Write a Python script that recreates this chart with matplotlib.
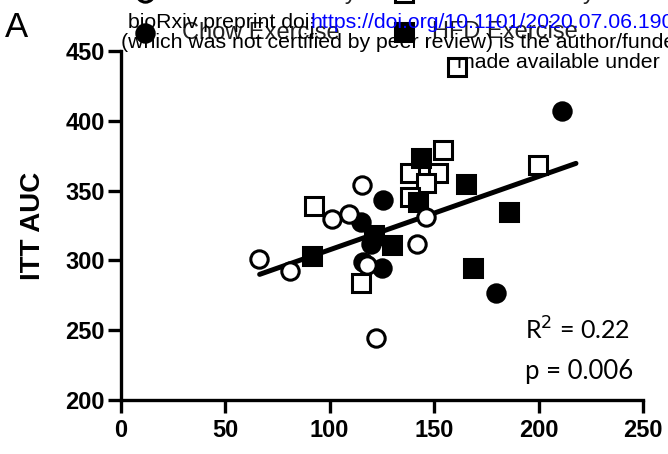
import matplotlib
matplotlib.use('Agg')
import matplotlib.pyplot as plt

# data (x: 0-250, y: ITT AUC)
chow_sed_x = [66.4, 81.0, 101.0, 109.5, 115.4, 146.0, 142.0, 118.0, 122.0]
chow_sed_y = [300.7, 292.5, 329.8, 332.9, 354.0, 331.3, 312.0, 296.4, 244.4]

chow_ex_x = [211.4, 125.7, 115.1, 119.6, 125.2, 179.5, 116.0]
chow_ex_y = [406.9, 343.3, 327.7, 312.0, 294.8, 276.4, 298.6]

hfd_sed_x = [92.7, 114.8, 138.5, 152.0, 146.2, 138.5, 154.2, 199.5, 161.2]
hfd_sed_y = [339.1, 284.1, 362.4, 362.4, 355.7, 345.6, 378.9, 368.0, 438.7]

hfd_ex_x = [91.6, 121.2, 130.0, 143.6, 142.5, 165.5, 185.9, 168.8]
hfd_ex_y = [303.1, 317.9, 311.0, 373.1, 342.0, 354.8, 335.0, 294.4]

fit_x = [66.5, 217.9]
fit_y = [290.0, 369.5]

xticks = [0, 50, 100, 150, 200, 250]
yticks = [200, 250, 300, 350, 400, 450]

plt.rcParams['font.family'] = ['Liberation Sans', 'DejaVu Sans']

W, H = 668, 454
fig = plt.figure(figsize=(W / 100, H / 100), dpi=100)
ax = fig.add_axes([0.1807, 0.1189, 0.7819, 0.7688])

ax.plot(fit_x, fit_y, color='black', lw=3.6, solid_capstyle='round', zorder=2)

ms = 12.5
ax.plot(hfd_sed_x, hfd_sed_y, 's', ms=ms, mfc='white', mec='black', mew=2.2, clip_on=False, zorder=3)
ax.plot(hfd_ex_x, hfd_ex_y, 's', ms=ms, mfc='black', mec='black', mew=2.2, clip_on=False, zorder=4)
ax.plot(chow_ex_x, chow_ex_y, 'o', ms=ms, mfc='black', mec='black', mew=2.2, clip_on=False, zorder=5)
ax.plot(chow_sed_x, chow_sed_y, 'o', ms=ms, mfc='white', mec='black', mew=2.2, clip_on=False, zorder=6)

ax.set_xlim(0, 250)
ax.set_ylim(200, 450)
ax.set_xticks(xticks)
ax.set_yticks(yticks)
for s in ['top', 'right']:
    ax.spines[s].set_visible(False)
for s in ['left', 'bottom']:
    ax.spines[s].set_linewidth(2.4)
ax.tick_params(direction='out', length=9.5, width=2.4, labelsize=17)
ax.tick_params(axis='x', pad=4)
ax.tick_params(axis='y', pad=2)
for lab in ax.get_xticklabels() + ax.get_yticklabels():
    lab.set_fontweight('bold')
ax.set_ylabel('ITT AUC', fontsize=20, fontweight='bold', labelpad=14)

fig.text(525 / W, 1 - 330 / H, r'R$^2$ = 0.22', ha='left', va='center', fontsize=18, family='Lato')
fig.text(525 / W, 1 - 372 / H, 'p = 0.006', ha='left', va='center', fontsize=18.5, family='Lato')

# panel letter
fig.text(5 / W, 1 - 37 / H, 'A', fontsize=25, va='baseline', ha='left')


def legend_item(x, y, marker, fill, label, tx):
    fig.lines.append(plt.Line2D([x / W], [1 - y / H], marker=marker, ms=ms, mfc=fill, mec='black',
                                mew=2.2, transform=fig.transFigure))
    fig.text(tx / W, 1 - y / H, label, fontsize=17, va='center', color='#222222')


# legend rows (top row is cut off by the figure edge)
legend_item(145, -7, 'o', 'white', 'Chow Sedentary', 182)
legend_item(404, -7, 's', 'white', 'HFD Sedentary', 432)
legend_item(145, 33, 'o', 'black', 'Chow Exercise', 182)
legend_item(404, 32, 's', 'black', 'HFD Exercise', 432)

# bioRxiv watermark
wm = 15.3
fig.text(128 / W, 1 - 22 / H, 'bioRxiv preprint doi: ', fontsize=wm, va='center', color='black')
fig.text(310 / W, 1 - 22 / H, 'https://doi.org/10.1101/2020.07.06.190199', fontsize=wm,
         va='center', color='blue')
fig.text(121 / W, 1 - 43 / H, '(which was not certified by peer review) is the author/funder',
         fontsize=wm, va='center', color='black')
fig.text(457 / W, 1 - 62 / H, 'made available under', fontsize=wm, va='center', color='black')

fig.savefig('out.png', dpi=100)
